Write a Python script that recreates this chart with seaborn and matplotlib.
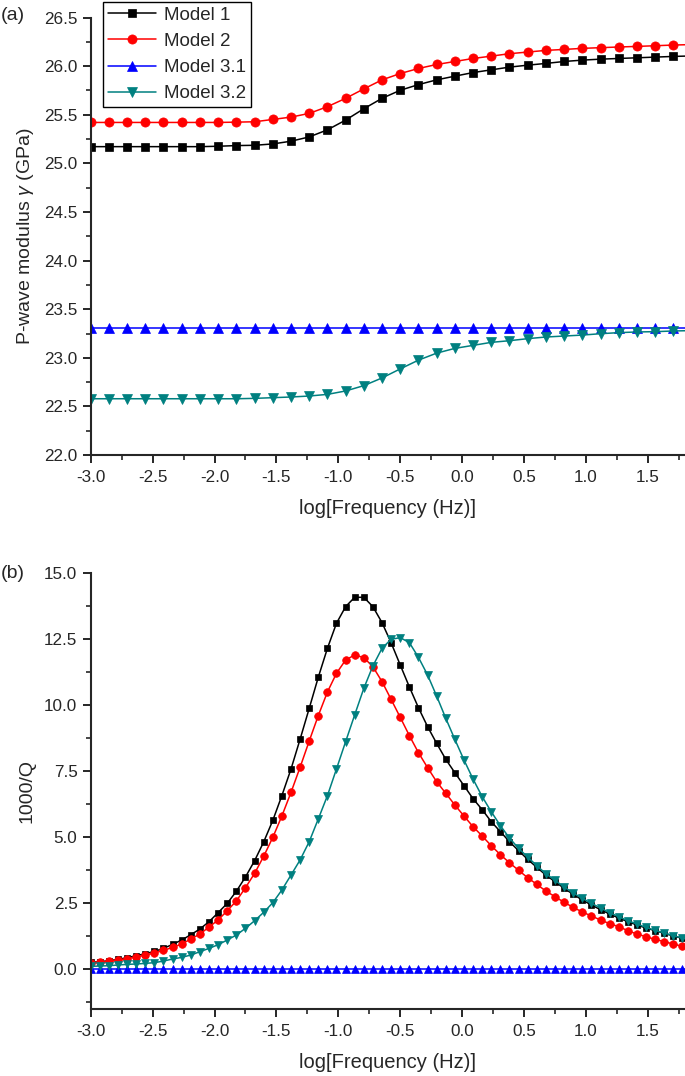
import matplotlib
matplotlib.use("Agg")
import matplotlib.pyplot as plt
import seaborn as sns
from matplotlib.ticker import MultipleLocator, FormatStrFormatter

# log10 frequency grid (Hz); the top panel uses every second point
log_freq = [-3.000, -2.926, -2.853, -2.779, -2.706, -2.632, -2.559, -2.485, -2.412, -2.338,
            -2.265, -2.191, -2.118, -2.044, -1.971, -1.897, -1.824, -1.750, -1.676, -1.603,
            -1.529, -1.456, -1.382, -1.309, -1.235, -1.162, -1.088, -1.015, -0.941, -0.868,
            -0.794, -0.721, -0.647, -0.574, -0.500, -0.426, -0.353, -0.279, -0.206, -0.132,
            -0.059, 0.015, 0.088, 0.162, 0.235, 0.309, 0.382, 0.456, 0.529, 0.603,
            0.676, 0.750, 0.824, 0.897, 0.971, 1.044, 1.118, 1.191, 1.265, 1.338,
            1.412, 1.485, 1.559, 1.632, 1.706, 1.779, 1.853]
log_freq_top = log_freq[::2]

labels = ["Model 1", "Model 2", "Model 3.1", "Model 3.2"]

# (a) P-wave modulus (GPa)
mod_m1 = [25.172, 25.172, 25.172, 25.172, 25.172, 25.172, 25.172, 25.176, 25.183, 25.186,
          25.200, 25.228, 25.272, 25.345, 25.445, 25.562, 25.669, 25.752, 25.810, 25.859,
          25.897, 25.934, 25.962, 25.990, 26.010, 26.028, 26.048, 26.062, 26.072, 26.079,
          26.086, 26.093, 26.100, 26.105]
mod_m2 = [25.421, 25.421, 25.421, 25.421, 25.421, 25.421, 25.421, 25.421, 25.424, 25.428,
          25.452, 25.476, 25.514, 25.583, 25.669, 25.766, 25.859, 25.924, 25.976, 26.017,
          26.048, 26.079, 26.103, 26.128, 26.145, 26.162, 26.172, 26.183, 26.190, 26.197,
          26.203, 26.210, 26.217, 26.222]
mod_m31 = [23.31] * 34
mod_m32 = [22.579, 22.579, 22.579, 22.579, 22.579, 22.579, 22.579, 22.579, 22.579, 22.583,
           22.590, 22.597, 22.607, 22.624, 22.659, 22.714, 22.793, 22.886, 22.976, 23.048,
           23.097, 23.128, 23.159, 23.176, 23.197, 23.214, 23.224, 23.234, 23.248, 23.259,
           23.266, 23.269, 23.276, 23.280]

# (b) attenuation 1000/Q
q_m1 = [0.265, 0.290, 0.328, 0.379, 0.442, 0.518, 0.593, 0.682, 0.795, 0.947,
        1.111, 1.313, 1.528, 1.806, 2.146, 2.500, 2.954, 3.497, 4.116, 4.823,
        5.644, 6.578, 7.588, 8.712, 9.886, 11.060, 12.159, 13.106, 13.737, 14.091,
        14.091, 13.737, 13.131, 12.373, 11.528, 10.694, 9.911, 9.192, 8.560, 7.954,
        7.449, 6.957, 6.465, 6.048, 5.593, 5.215, 4.836, 4.495, 4.167, 3.864,
        3.573, 3.321, 3.068, 2.841, 2.626, 2.437, 2.260, 2.096, 1.944, 1.806,
        1.679, 1.566, 1.465, 1.364, 1.263, 1.174, 1.100]
q_m2 = [0.240, 0.265, 0.303, 0.354, 0.404, 0.467, 0.543, 0.619, 0.720, 0.833,
        0.960, 1.149, 1.338, 1.604, 1.869, 2.222, 2.588, 3.093, 3.636, 4.280,
        5.000, 5.808, 6.704, 7.651, 8.649, 9.608, 10.505, 11.212, 11.717, 11.906,
        11.805, 11.464, 10.896, 10.227, 9.545, 8.851, 8.207, 7.639, 7.108, 6.667,
        6.225, 5.808, 5.404, 5.050, 4.684, 4.343, 4.040, 3.750, 3.472, 3.220,
        2.967, 2.752, 2.538, 2.348, 2.172, 2.020, 1.869, 1.730, 1.616, 1.465,
        1.338, 1.237, 1.136, 1.048, 0.960, 0.871, 0.800]
q_m31 = [0.0] * 67
q_m32 = [0.114, 0.126, 0.139, 0.164, 0.189, 0.202, 0.227, 0.253, 0.316, 0.391,
         0.455, 0.543, 0.669, 0.795, 0.934, 1.111, 1.300, 1.553, 1.843, 2.159,
         2.525, 3.005, 3.573, 4.141, 4.836, 5.694, 6.578, 7.588, 8.624, 9.634,
         10.644, 11.490, 12.159, 12.500, 12.563, 12.373, 11.818, 11.149, 10.353, 9.507,
         8.712, 7.929, 7.209, 6.540, 5.972, 5.442, 4.975, 4.583, 4.255, 3.927,
         3.624, 3.371, 3.119, 2.891, 2.689, 2.500, 2.323, 2.146, 1.995, 1.843,
         1.717, 1.591, 1.477, 1.376, 1.275, 1.187, 1.110]

colors = ["black", "red", "blue", "#008080"]
markers = ["s", "o", "^", "v"]
ms_top = [5.8, 6.6, 6.8, 6.8]
ms_bot = [4.8, 5.5, 5.6, 5.8]

sns.set_style("ticks")
plt.rcParams['font.family'] = ['Liberation Sans', 'DejaVu Sans']
plt.rcParams['mathtext.fontset'] = 'custom'
plt.rcParams['mathtext.it'] = 'Liberation Sans:italic'
plt.rcParams['mathtext.rm'] = 'Liberation Sans'
plt.rcParams['axes.unicode_minus'] = False

fig = plt.figure(figsize=(6.85, 10.76), dpi=100)
ax1 = fig.add_axes([0.1324, 0.5771, 0.8676, 0.4066])
ax2 = fig.add_axes([0.1324, 0.0623, 0.8676, 0.4049])

for ys, lab, c, m, ms in zip([mod_m1, mod_m2, mod_m31, mod_m32], labels, colors, markers, ms_top):
    sns.lineplot(x=log_freq_top, y=ys, ax=ax1, color=c, marker=m, markersize=ms,
                 markeredgecolor=c, markeredgewidth=0.5, linewidth=1.1,
                 label=lab, estimator=None, sort=False)

for ys, c, m, ms in zip([q_m1, q_m2, q_m31, q_m32], colors, markers, ms_bot):
    sns.lineplot(x=log_freq, y=ys, ax=ax2, color=c, marker=m, markersize=ms,
                 markeredgecolor=c, markeredgewidth=0.5, linewidth=1.1,
                 legend=False, estimator=None, sort=False)

for ax in (ax1, ax2):
    sns.despine(ax=ax)
    ax.set_xlim(-3.0, 1.8)
    ax.xaxis.set_major_locator(MultipleLocator(0.5))
    ax.xaxis.set_minor_locator(MultipleLocator(0.25))
    ax.xaxis.set_major_formatter(FormatStrFormatter('%.1f'))
    ax.yaxis.set_major_formatter(FormatStrFormatter('%.1f'))
    ax.tick_params(which='major', direction='out', length=6, width=1.4, labelsize=12.3, pad=3.5)
    ax.tick_params(axis='x', which='major', pad=5)
    ax.tick_params(which='minor', direction='out', length=3.5, width=1.2)
    for s in ("left", "bottom"):
        ax.spines[s].set_linewidth(1.5)
    ax.set_xlabel("log[Frequency (Hz)]", fontsize=14.5, labelpad=10)

ax1.set_ylim(22.0, 26.5)
ax1.yaxis.set_major_locator(MultipleLocator(0.5))
ax1.yaxis.set_minor_locator(MultipleLocator(0.25))
ax1.set_ylabel(r"P-wave modulus $\gamma$ (GPa)", fontsize=14, labelpad=6)

ax2.set_ylim(-1.5, 15.0)
ax2.yaxis.set_major_locator(MultipleLocator(2.5))
ax2.yaxis.set_minor_locator(MultipleLocator(1.25))
ax2.set_ylabel("1000/Q", fontsize=14, labelpad=6)

leg = ax1.legend(loc='upper left', bbox_to_anchor=(103 / 685, 1 - 2 / 1076),
                 bbox_transform=fig.transFigure, borderaxespad=0, fontsize=13.5,
                 frameon=True, fancybox=False, edgecolor='black', framealpha=1,
                 handlelength=2.6, handletextpad=0.4, labelspacing=0.48, borderpad=0.25)
leg.get_frame().set_linewidth(1.0)

fig.text(1 / 685, 1 - 15 / 1076, "(a)", fontsize=14, ha='left', va='center')
fig.text(1 / 685, 1 - 573 / 1076, "(b)", fontsize=14, ha='left', va='center')

fig.savefig("out.png", dpi=100)
